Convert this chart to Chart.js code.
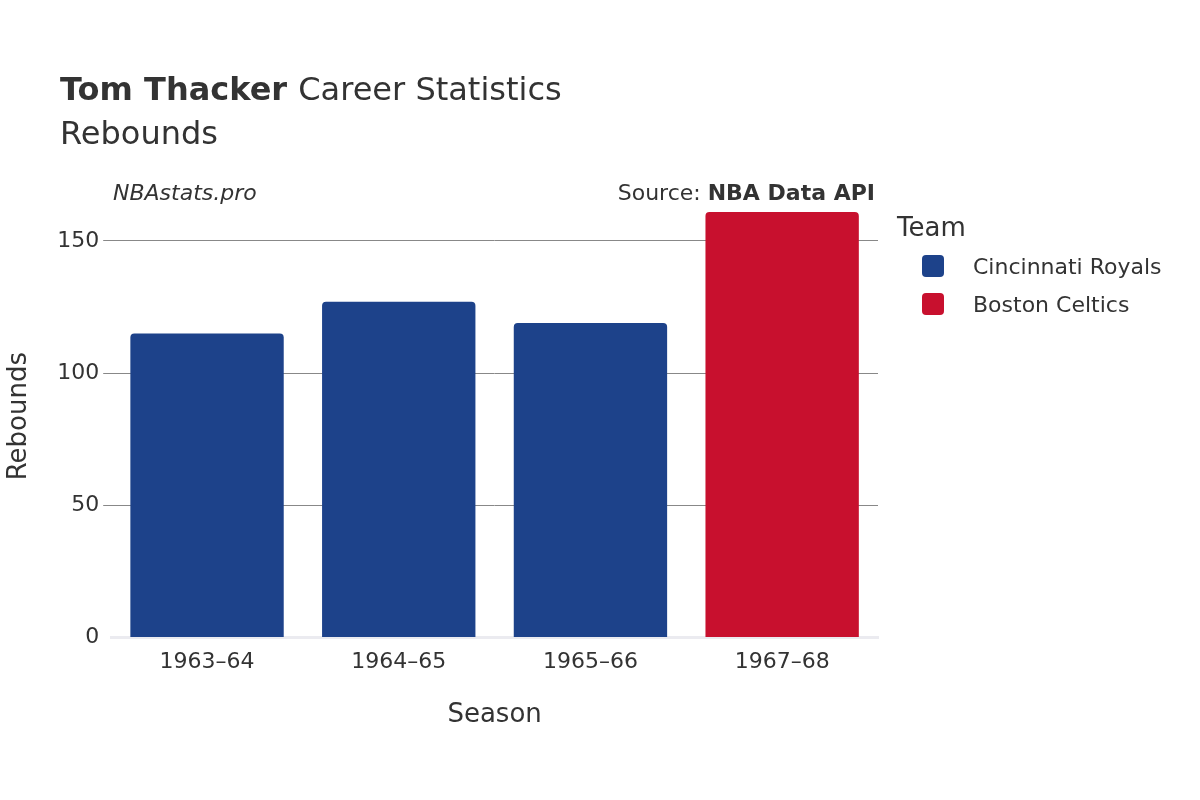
<!DOCTYPE html>
<html>
<head>
<meta charset="utf-8">
<script src="https://cdn.jsdelivr.net/npm/chart.js@4"></script>
<style>body{margin:0;background:#fff}</style>
</head>
<body>
<canvas id="c" width="1200" height="800"></canvas>
<script>
var seasons = ['1963–64', '1964–65', '1965–66', '1967–68'];
var royals = [115, 127, 119, null];
var celtics = [null, null, null, 161];
var teams = ['Cincinnati Royals', 'Boston Celtics'];
var colors = ['#1d428a', '#c8102e'];
var FONT = "'DejaVu Sans', sans-serif";

// header texts and legend drawn by hand
var decor = {
  id: 'decor',
  afterDraw: function(chart) {
    var ctx = chart.ctx;
    ctx.save();
    ctx.fillStyle = '#333';
    ctx.textBaseline = 'alphabetic';
    ctx.font = 'bold 32px ' + FONT;
    ctx.fillText('Tom Thacker', 60, 100);
    var w = ctx.measureText('Tom Thacker ').width;
    ctx.font = '32px ' + FONT;
    ctx.fillText('Career Statistics', 60 + w, 100);
    ctx.fillText('Rebounds', 60, 144);
    ctx.font = 'italic 22px ' + FONT;
    ctx.fillText('NBAstats.pro', 113, 200);
    ctx.textAlign = 'right';
    ctx.font = 'bold 22px ' + FONT;
    ctx.fillText('NBA Data API', 875, 200);
    var bw = ctx.measureText('NBA Data API').width;
    ctx.font = '22px ' + FONT;
    ctx.fillText('Source: ', 875 - bw, 200);
    ctx.textAlign = 'left';
    ctx.font = '26px ' + FONT;
    ctx.fillText('Team', 897, 236);
    ctx.font = '22px ' + FONT;
    for (var i = 0; i < teams.length; i++) {
      var y = 266 + i * 38;
      ctx.fillStyle = colors[i];
      ctx.beginPath();
      ctx.roundRect(922, y - 11, 22, 22, 4);
      ctx.fill();
      ctx.fillStyle = '#333';
      ctx.fillText(teams[i], 973, y + 8);
    }
    ctx.restore();
  }
};

new Chart(document.getElementById('c'), {
  type: 'bar',
  data: {
    labels: seasons,
    datasets: [
      { label: teams[0], data: royals, backgroundColor: colors[0], borderRadius: 4, borderSkipped: 'bottom' },
      { label: teams[1], data: celtics, backgroundColor: colors[1], borderRadius: 4, borderSkipped: 'bottom' }
    ]
  },
  options: {
    responsive: false,
    animation: false,
    layout: { padding: { top: 195, right: 322, bottom: 65, left: 0 } },
    plugins: { legend: { display: false }, tooltip: { enabled: false } },
    datasets: { bar: { barPercentage: 0.8, categoryPercentage: 1 } },
    scales: {
      x: {
        stacked: true,
        grid: { display: false },
        border: { color: '#ebebf0', width: 3 },
        ticks: { color: '#333', font: { family: FONT, size: 22 }, padding: 4 },
        title: { display: true, text: 'Season', color: '#333', font: { family: FONT, size: 26 }, padding: { top: 20 } }
      },
      y: {
        stacked: true,
        min: 0,
        max: 167.4,
        afterBuildTicks: function(axis) { axis.ticks = [0, 50, 100, 150].map(function(v) { return { value: v }; }); },
        grid: { color: function(c) { return c.tick.value === 0 ? 'rgba(0,0,0,0)' : '#888'; }, drawTicks: true, tickLength: 8 },
        border: { display: false },
        ticks: { color: '#333', font: { family: FONT, size: 22 }, padding: 4 },
        title: { display: true, text: 'Rebounds', color: '#333', font: { family: FONT, size: 26 }, padding: { bottom: 18 } }
      }
    }
  },
  plugins: [decor]
});
</script>
</body>
</html>
